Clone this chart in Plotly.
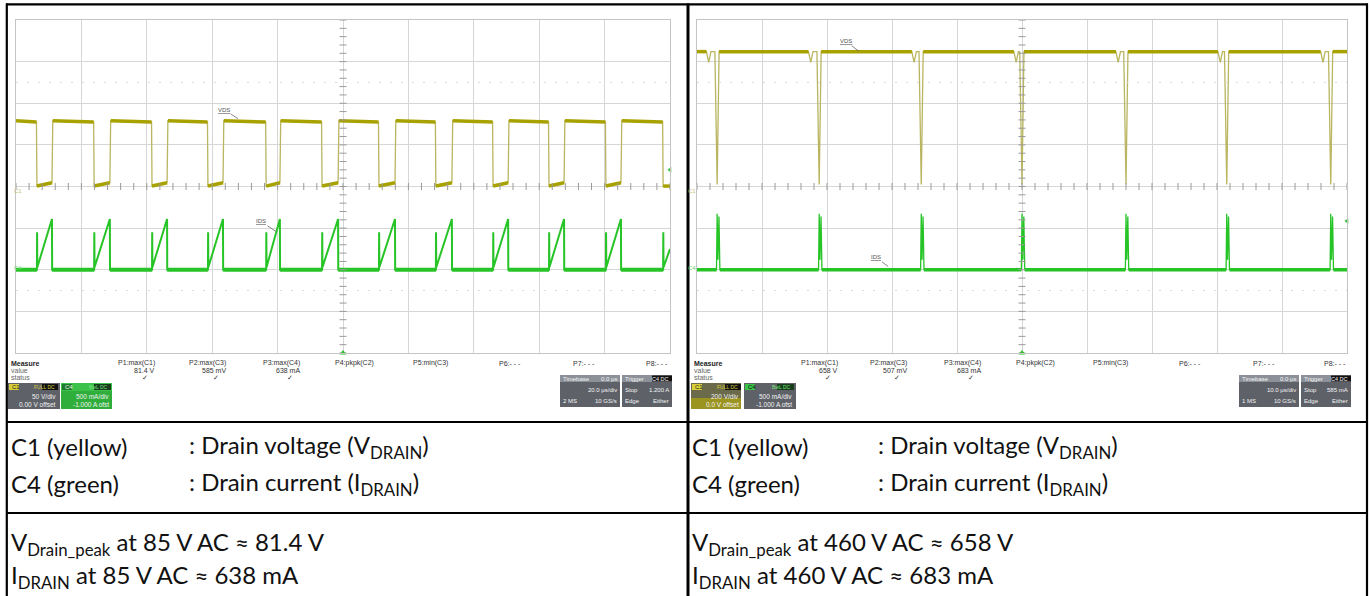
import plotly.graph_objects as go

W, H = 1370, 596

# ---------------- data: left capture (85 V AC) ----------------
L_time_per_div_us = 20.0
L_volt_per_div = 50.0
L_fall_us = [6.4, 23.9, 41.6, 58.7, 76.5, 93.6, 111.0, 128.4, 145.9, 163.0, 180.4, 197.9]
L_rise_us = [11.0, 28.7, 46.2, 63.3, 80.7, 98.5, 115.9, 133.3, 150.5, 167.6, 185.0]
L_vds_high_V = [79.0, 77.5]      # start / end of off-state plateau
L_vds_low_V = [0.5, 4.5]         # start / end of on-state
L_ids_spike_mA = 450
L_ids_ramp_mA = [30, 610]
L_ids_cut_mA = 250               # ramp value where record ends
L_trigger_A = 1.2
L_meas_values = ["81.4 V", "585 mV", "638 mA"]
L_timebase = ["0.0 µs", "20.0 µs/div", "2 MS", "10 GS/s"]
L_trigger_txt = ["C4 DC", "1.200 A", "Either"]
L_ch_txt = [["50 V/div", "0.00 V offset"], ["500 mA/div", "-1.000 A ofst"]]

# ---------------- data: right capture (460 V AC) ----------------
R_time_per_div_us = 10.0
R_volt_per_div = 200.0
R_dip_us = [1.8, 17.5, 33.4, 49.1, 64.8, 80.5, 96.3]
R_drop_us = [3.1, 18.8, 34.5, 50.0, 66.0, 81.5, 97.5]
R_vds_high_V = 648
R_vds_dip_V = 596
R_vds_low_V = 10
R_ids_peaks_mA = [673, 640]
R_trigger_A = 0.585
R_meas_values = ["658 V", "507 mV", "683 mA"]
R_timebase = ["0.0 µs", "10.0 µs/div", "1 MS", "10 GS/s"]
R_trigger_txt = ["C4 DC", "585 mA", "Either"]
R_ch_txt = [["200 V/div", "0.0 V offset"], ["500 mA/div", "-1.000 A ofst"]]

meas_labels = ["P1:max(C1)", "P2:max(C3)", "P3:max(C4)", "P4:pkpk(C2)",
               "P5:min(C3)", "P6:- - -", "P7:- - -", "P8:- - -"]

I_per_div_A = 0.5
I_offset_A = -1.0
N_DIV_X, N_DIV_Y = 10, 8

# table text
row1 = [["C1 (yellow)", ": Drain voltage (V<sub>DRAIN</sub>)"],
        ["C4 (green)", ": Drain current (I<sub>DRAIN</sub>)"]]
L_row2 = ["V<sub>Drain_peak</sub> at 85 V AC ≈ 81.4 V", "I<sub>DRAIN</sub> at 85 V AC ≈ 638 mA"]
R_row2 = ["V<sub>Drain_peak</sub> at 460 V AC ≈ 658 V", "I<sub>DRAIN</sub> at 460 V AC ≈ 683 mA"]

YEL = "#a8a200"
YEL_EDGE = "#b9b560"
GRN = "#27c427"

def X(px): return px / W
def Y(py): return 1 - py / H

def vdiv(v, vpd): return v / vpd
def idiv(ma): return (ma / 1000.0 + I_offset_A) / I_per_div_A

fig = go.Figure()

# ---------- left traces ----------
T_L = N_DIV_X * L_time_per_div_us
hi0, hi1 = L_vds_high_V
lo0, lo1 = L_vds_low_V
vx, vy = [0.0], [hi0]
fx, fy = [], []
start = 0.0
for i, tf in enumerate(L_fall_us):
    fx += [start, tf - 0.15, None]; fy += [hi0, hi1, None]
    vx += [tf - 0.15, tf]; vy += [hi1, lo0]
    if i < len(L_rise_us):
        tr = L_rise_us[i]
        fx += [tf, tr, None]; fy += [lo0, lo1, None]
        vx += [tr, tr + 0.25]; vy += [lo1, hi0]
        start = tr + 0.25
    else:
        fx += [tf, T_L, None]; fy += [lo0, lo0, None]
        vx += [T_L]; vy += [lo0]
fig.add_trace(go.Scatter(x=vx, y=[vdiv(v, L_volt_per_div) for v in vy], mode="lines",
                         line=dict(color=YEL_EDGE, width=1.3), xaxis="x", yaxis="y"))
fig.add_trace(go.Scatter(x=fx, y=[None if v is None else vdiv(v, L_volt_per_div) for v in fy],
                         mode="lines", line=dict(color=YEL, width=3.5), xaxis="x", yaxis="y"))

ix, iy = [0.0], [0.0]
bx, by = [], []
bstart = 0.0
for i, tf in enumerate(L_fall_us):
    bx += [bstart, tf, None]; by += [0, 0, None]
    ix += [tf, tf + 0.05, tf + 0.12]; iy += [0, L_ids_spike_mA, L_ids_ramp_mA[0]]
    if i < len(L_rise_us):
        tr = L_rise_us[i]
        ix += [tr, tr + 0.05]; iy += [L_ids_ramp_mA[1], 0]
        bstart = tr + 0.05
    else:
        ix += [T_L]; iy += [L_ids_cut_mA]
        bstart = None
if bstart is not None:
    bx += [bstart, T_L]; by += [0, 0]
fig.add_trace(go.Scatter(x=ix, y=[idiv(v) for v in iy], mode="lines",
                         line=dict(color=GRN, width=2), xaxis="x", yaxis="y"))
fig.add_trace(go.Scatter(x=bx, y=[None if v is None else idiv(v) for v in by], mode="lines",
                         line=dict(color=GRN, width=4), xaxis="x", yaxis="y"))

# ---------- right traces ----------
T_R = N_DIV_X * R_time_per_div_us
rx, ry = [0.0], [R_vds_high_V]
rfx, rfy = [], []
start = 0.0
for td, tq in zip(R_dip_us, R_drop_us):
    rfx += [start, td - 0.35, None]; rfy += [R_vds_high_V, R_vds_high_V, None]
    rx += [td - 0.35, td, td + 0.35, tq - 0.35, tq, tq + 0.3]
    ry += [R_vds_high_V, R_vds_dip_V, R_vds_high_V, R_vds_high_V, R_vds_low_V, R_vds_high_V]
    start = tq + 0.3
rfx += [start, T_R]; rfy += [R_vds_high_V, R_vds_high_V]
rx += [T_R]; ry += [R_vds_high_V]
fig.add_trace(go.Scatter(x=rx, y=[vdiv(v, R_volt_per_div) for v in ry], mode="lines",
                         line=dict(color=YEL_EDGE, width=1.3), xaxis="x2", yaxis="y2"))
fig.add_trace(go.Scatter(x=rfx, y=[None if v is None else vdiv(v, R_volt_per_div) for v in rfy],
                         mode="lines", line=dict(color=YEL, width=3.5), xaxis="x2", yaxis="y2"))

gx, gy = [0.0], [0.0]
gbx, gby = [], []
start = 0.0
for tq in R_drop_us:
    gbx += [start, tq - 0.1, None]; gby += [0, 0, None]
    gx += [tq - 0.1, tq, tq + 0.12, tq + 0.28, tq + 0.42]
    gy += [0, R_ids_peaks_mA[0], 120, R_ids_peaks_mA[1], 0]
    start = tq + 0.42
gbx += [start, T_R]; gby += [0, 0]
gx += [T_R]; gy += [0]
fig.add_trace(go.Scatter(x=gx, y=[idiv(v) for v in gy], mode="lines",
                         line=dict(color=GRN, width=1.3), xaxis="x2", yaxis="y2"))
fig.add_trace(go.Scatter(x=gbx, y=[None if v is None else idiv(v) for v in gby], mode="lines",
                         line=dict(color=GRN, width=3.5), xaxis="x2", yaxis="y2"))

# ---------- center-line ticks & trigger markers ----------
for xa, ya, tpd, trig in [("x", "y", L_time_per_div_us, L_trigger_A),
                          ("x2", "y2", R_time_per_div_us, R_trigger_A)]:
    T = N_DIV_X * tpd
    hx = [k * tpd / 5 for k in range(N_DIV_X * 5 + 1)]
    fig.add_trace(go.Scatter(x=hx, y=[0] * len(hx), mode="markers",
                             marker=dict(symbol="line-ns", size=5, line=dict(color="#9a9a9a", width=1)),
                             xaxis=xa, yaxis=ya, hoverinfo="skip"))
    vyv = [k / 5 - 4 for k in range(N_DIV_Y * 5 + 1)]
    fig.add_trace(go.Scatter(x=[T / 2] * len(vyv), y=vyv, mode="markers",
                             marker=dict(symbol="line-ew", size=5, line=dict(color="#9a9a9a", width=1)),
                             xaxis=xa, yaxis=ya, hoverinfo="skip"))
    fig.add_trace(go.Scatter(x=[T / 2], y=[-4], mode="markers", cliponaxis=False,
                             marker=dict(symbol="triangle-up", size=6, color="#2fbf2f"),
                             xaxis=xa, yaxis=ya, hoverinfo="skip"))
    fig.add_trace(go.Scatter(x=[T], y=[idiv(trig * 1000)], mode="markers", cliponaxis=False,
                             marker=dict(symbol="triangle-left", size=5, color="#2fbf2f"),
                             xaxis=xa, yaxis=ya, hoverinfo="skip"))

ax_common = dict(showgrid=True, gridcolor="#d6d6d6", gridwidth=1, showticklabels=False,
                 zeroline=False, showline=True, linecolor="#c4c4c4", mirror=True, ticks="",
                 fixedrange=True)
fig.update_layout(
    xaxis=dict(domain=[X(16), X(670)], range=[0, N_DIV_X * L_time_per_div_us],
               dtick=L_time_per_div_us, tick0=0, anchor="y", **ax_common),
    yaxis=dict(domain=[Y(353), Y(20)], range=[-4, 4], dtick=1, tick0=0, anchor="x", **ax_common),
    xaxis2=dict(domain=[X(697), X(1347)], range=[0, N_DIV_X * R_time_per_div_us],
                dtick=R_time_per_div_us, tick0=0, anchor="y2", **ax_common),
    yaxis2=dict(domain=[Y(353), Y(20)], range=[-4, 4], dtick=1, tick0=0, anchor="x2", **ax_common),
)

shapes = []
ann = []

# faint dotted rows at +/-2.5 div
for xa, ya, T in [("x", "y", 200), ("x2", "y2", 100)]:
    for yv in (2.5, -2.5):
        shapes.append(dict(type="line", xref=xa, yref=ya, x0=0, x1=T, y0=yv, y1=yv,
                           line=dict(color="#dadada", width=1, dash="2px,9px")))

# trace labels with leader lines
def tlabel(xa, ya, x, y, txt, axo, ayo):
    ann.append(dict(xref=xa, yref=ya, x=x, y=y, text="<u>" + txt + "</u>", showarrow=True,
                    arrowhead=0, arrowwidth=0.8, arrowcolor="#666", ax=axo, ay=ayo,
                    font=dict(size=6, color="#555", family="Liberation Sans")))
tlabel("x", "y", 67.9, 1.63, "VDS", -14, -9)
tlabel("x", "y", 79.5, -1.08, "IDS", -15, -10)
tlabel("x2", "y2", 24.9, 3.25, "VDS", -13, -10)
tlabel("x2", "y2", 29.4, -1.92, "IDS", -12, -9)

# channel ground markers
for px0 in (12, 692):
    ann.append(dict(xref="paper", yref="paper", x=X(px0), y=Y(186), text="C1", showarrow=False,
                    font=dict(size=6, color="#c9c27a", family="Liberation Sans")))
    ann.append(dict(xref="paper", yref="paper", x=X(px0), y=Y(268), text="C4", showarrow=False,
                    font=dict(size=6, color="#6ad66a", family="Liberation Sans")))

SF = "Liberation Sans"
def txt(px, py, s, anchor="left", size=7, color="#333", bold=False, family=SF):
    if bold:
        s = "<b>" + s + "</b>"
    ann.append(dict(xref="paper", yref="paper", x=X(px), y=Y(py), text=s, showarrow=False,
                    xanchor=anchor, yanchor="middle", font=dict(size=size, color=color, family=family)))

def rect(x0, y0, x1, y1, fill):
    shapes.append(dict(type="rect", xref="paper", yref="paper", x0=X(x0), x1=X(x1),
                       y0=Y(y1), y1=Y(y0), fillcolor=fill, line=dict(width=0, color=fill)))

def scope_footer(ox, meas_ends, vals, chtxt, tb_x, tbtxt, trtxt, right):
    txt(ox + 1, 363, "Measure", bold=True, color="#222")
    txt(ox + 1, 370, "value", color="#666")
    txt(ox + 1, 377, "status", color="#666")
    for k, (lab, xe) in enumerate(zip(meas_labels, meas_ends)):
        txt(xe, 363, lab, anchor="right", color="#333")
        if k < 3:
            txt(xe, 370, vals[k], anchor="right", color="#333")
            txt(xe - 7, 377.5, "✓", anchor="right", size=7, color="#333", family="DejaVu Sans")
    c1x, c4x = ox, ox + 53
    if not right:
        rect(c1x, 383, c1x + 52, 409, "#5e6168")
        rect(c4x, 383, c4x + 51, 409, "#2fae3c")
        rect(c4x, 383, c4x + 51, 391, "#3cc24a")
    else:
        rect(c1x, 383, c1x + 50, 409, "#6b6a4a")
        rect(c1x, 398, c1x + 50, 409, "#9b9420")
        rect(c4x, 383, c4x + 52, 409, "#5e6168")
    rect(c1x + 1, 384, c1x + 11, 390, "#d8cf3a")
    txt(c1x + 2, 387, "C1", size=6, color="#222")
    rect(c1x + 34, 384, c1x + 50, 390, "#111")
    txt(c1x + 49, 387, "FULL DC", anchor="right", size=5, color="#d8cf3a")
    rect(c4x + 1, 384, c4x + 11, 390, "#1f7a2a" if not right else "#3cc24a")
    txt(c4x + 2, 387, "C4", size=6, color="#eee" if not right else "#111")
    rect(c4x + 33, 384, c4x + 50, 390, "#173d1c")
    txt(c4x + 49, 387, "BwL DC", anchor="right", size=5, color="#7be07b")
    txt(c1x + 50, 396, chtxt[0][0], anchor="right", size=6.5, color="#f2f2f2")
    txt(c1x + 50, 404, chtxt[0][1], anchor="right", size=6.5, color="#f2f2f2")
    txt(c4x + 50, 396, chtxt[1][0], anchor="right", size=6.5, color="#f2f2f2")
    txt(c4x + 50, 404, chtxt[1][1], anchor="right", size=6.5, color="#f2f2f2")
    rect(tb_x, 375, tb_x + 60, 407, "#5e6168")
    rect(tb_x, 375, tb_x + 60, 382, "#8c9098")
    txt(tb_x + 1, 378.5, "Timebase", size=6, color="#f4f4f4")
    txt(tb_x + 59, 378.5, tbtxt[0], anchor="right", size=6, color="#f4f4f4")
    txt(tb_x + 59, 390, tbtxt[1], anchor="right", size=6, color="#f4f4f4")
    txt(tb_x + 1, 401, tbtxt[2], size=6, color="#f4f4f4")
    txt(tb_x + 59, 401, tbtxt[3], anchor="right", size=6, color="#f4f4f4")
    trx = tb_x + 62
    rect(trx, 375, trx + 50, 407, "#5e6168")
    rect(trx, 375, trx + 50, 382, "#8c9098")
    rect(trx + 30, 375.5, trx + 50, 381.5, "#111")
    txt(trx + 1, 378.5, "Trigger", size=6, color="#f4f4f4")
    txt(trx + 49, 378.5, trtxt[0], anchor="right", size=5.5, color="#f4f4f4")
    txt(trx + 1, 390, "Stop", size=6, color="#f4f4f4")
    txt(trx + 49, 390, trtxt[1], anchor="right", size=6, color="#f4f4f4")
    txt(trx + 1, 401, "Edge", size=6, color="#f4f4f4")
    txt(trx + 49, 401, trtxt[2], anchor="right", size=6, color="#f4f4f4")

scope_footer(8, [157, 228, 302, 376, 450, 523, 597, 670], L_meas_values, L_ch_txt, 560,
             L_timebase, L_trigger_txt, False)
scope_footer(691, [840, 909, 983, 1057, 1130, 1203, 1277, 1348], R_meas_values, R_ch_txt, 1239,
             R_timebase, R_trigger_txt, True)

# ---------- table borders ----------
def hline(y, w=2.2):
    shapes.append(dict(type="line", xref="paper", yref="paper", x0=X(6), x1=X(1368),
                       y0=Y(y), y1=Y(y), line=dict(color="#000", width=w)))
def vline(x, w=2.2):
    shapes.append(dict(type="line", xref="paper", yref="paper", x0=X(x), x1=X(x),
                       y0=Y(3.5), y1=Y(596), line=dict(color="#000", width=w)))
hline(4.3); hline(422); hline(513)
vline(6.8); vline(688, 3); vline(1367)

# ---------- table text ----------
TF = "Lato"
def ttxt(px, py, s):
    ann.append(dict(xref="paper", yref="paper", x=X(px), y=Y(py), text=s, showarrow=False,
                    xanchor="left", yanchor="middle", font=dict(size=24, color="#111", family=TF)))
for ox, colx in [(9, 187), (690, 876)]:
    ttxt(ox, 446, row1[0][0]); ttxt(colx, 446, row1[0][1])
    ttxt(ox, 483, row1[1][0]); ttxt(colx, 483, row1[1][1])
ttxt(9, 543, L_row2[0]); ttxt(9, 576, L_row2[1])
ttxt(690, 543, R_row2[0]); ttxt(690, 576, R_row2[1])

fig.update_layout(width=W, height=H, margin=dict(l=0, r=0, t=0, b=0),
                  paper_bgcolor="white", plot_bgcolor="white", showlegend=False,
                  shapes=shapes, annotations=ann)
fig.write_html("out.html", config={"displayModeBar": False},
               post_script="document.body.style.margin='0';document.body.style.overflow='hidden';")
